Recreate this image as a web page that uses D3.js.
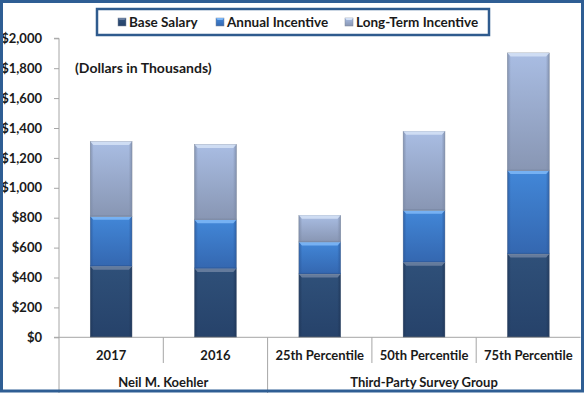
<!DOCTYPE html>
<html>
<head>
<meta charset="utf-8">
<script src="https://cdn.jsdelivr.net/npm/d3@7"></script>
<style>
  body { margin: 0; background: #fff; }
  svg { display: block; font-family: "Liberation Sans Narrow", "Lato", sans-serif; font-weight: bold; }
</style>
</head>
<body>
<svg width="585" height="393"></svg>
<script>
// values in $ thousands
var categories = ["2017", "2016", "25th Percentile", "50th Percentile", "75th Percentile"];
var groups = [
  {name: "Neil M. Koehler", from: 0, to: 1},
  {name: "Third-Party Survey Group", from: 2, to: 4}
];
var seriesNames = ["Base Salary", "Annual Incentive", "Long-Term Incentive"];
var baseSalary = [475, 460, 424, 502, 558];
var annualIncentive = [334, 327, 214, 348, 557];
var longTermIncentive = [500, 502, 178, 528, 787];
var yTicks = [0, 200, 400, 600, 800, 1000, 1200, 1400, 1600, 1800, 2000];

var colors = {
  "Base Salary":        {top: "#2f5079", bottom: "#26426a", edge: "#1f3658", hi: "#6a7fa0"},
  "Annual Incentive":   {top: "#4287d8", bottom: "#3467b0", edge: "#2c5a9c", hi: "#7cb6f6"},
  "Long-Term Incentive":{top: "#a9bde3", bottom: "#8896b3", edge: "#7c8aa6", hi: "#d3e0f5"}
};

var svg = d3.select("svg"),
    W = 585, H = 393,
    x0 = 59, x1 = 580.5,
    yZero = 337.3, yTop = 38.3;

var data = categories.map(function(c, i) {
  return {cat: c, "Base Salary": baseSalary[i], "Annual Incentive": annualIncentive[i], "Long-Term Incentive": longTermIncentive[i]};
});

var x = d3.scaleBand().domain(categories).range([x0, x1]).paddingInner(0.6).paddingOuter(0.3);
var step = (x1 - x0) / categories.length;
var y = d3.scaleLinear().domain([0, 2000]).range([yZero, yTop]);

svg.append("rect").attr("width", W).attr("height", H).attr("fill", "#fff");

var defs = svg.append("defs");
seriesNames.forEach(function(s, i) {
  var g = defs.append("linearGradient").attr("id", "g" + i)
      .attr("x1", 0).attr("y1", 0).attr("x2", 0).attr("y2", 1);
  g.append("stop").attr("offset", "0%").attr("stop-color", colors[s].top);
  g.append("stop").attr("offset", "100%").attr("stop-color", colors[s].bottom);
  var e = defs.append("linearGradient").attr("id", "e" + i)
      .attr("x1", 0).attr("y1", 0).attr("x2", 1).attr("y2", 0);
  e.append("stop").attr("offset", "0%").attr("stop-color", colors[s].edge).attr("stop-opacity", 0.8);
  e.append("stop").attr("offset", "8%").attr("stop-color", colors[s].edge).attr("stop-opacity", 0);
  e.append("stop").attr("offset", "92%").attr("stop-color", colors[s].edge).attr("stop-opacity", 0);
  e.append("stop").attr("offset", "100%").attr("stop-color", colors[s].edge).attr("stop-opacity", 0.8);
});

// stacked bars
var stack = d3.stack().keys(seriesNames)(data);

var layer = svg.append("g").selectAll("g")
  .data(stack)
  .enter().append("g");

layer.each(function(s, i) {
  var g = d3.select(this);
  var seg = g.selectAll("g").data(s).enter().append("g");
  seg.append("rect")
      .attr("x", function(d) { return x(d.data.cat); })
      .attr("y", function(d) { return y(d[1]); })
      .attr("width", x.bandwidth())
      .attr("height", function(d) { return y(d[0]) - y(d[1]); })
      .attr("fill", "url(#g" + i + ")")
      .attr("stroke", "#8d96a3")
      .attr("stroke-width", 0.6);
  seg.append("rect")
      .attr("x", function(d) { return x(d.data.cat); })
      .attr("y", function(d) { return y(d[1]); })
      .attr("width", x.bandwidth())
      .attr("height", function(d) { return y(d[0]) - y(d[1]); })
      .attr("fill", "url(#e" + i + ")");
  // bevel highlight along the top
  seg.append("path")
      .attr("d", function(d) {
        var l = x(d.data.cat), r = l + x.bandwidth(), t = y(d[1]);
        return "M" + l + "," + t + "L" + r + "," + t + "L" + (r - 3) + "," + (t + 3.5) + "L" + (l + 3) + "," + (t + 3.5) + "Z";
      })
      .attr("fill", colors[seriesNames[i]].hi)
      .attr("opacity", 0.9);
  seg.append("line")
      .attr("x1", function(d) { return x(d.data.cat); })
      .attr("x2", function(d) { return x(d.data.cat) + x.bandwidth(); })
      .attr("y1", function(d) { return y(d[0]) - 0.5; })
      .attr("y2", function(d) { return y(d[0]) - 0.5; })
      .attr("stroke", colors[seriesNames[i]].edge)
      .attr("stroke-width", 1);
});

// y axis
var yAxis = d3.axisLeft(y).tickValues(yTicks).tickSize(5).tickPadding(12)
    .tickFormat(function(d) { return "$" + d3.format(",")(d); });
var yg = svg.append("g").attr("transform", "translate(" + x0 + ",0)").call(yAxis);
yg.select(".domain").attr("stroke", "#a6a6a6").attr("d", "M-5," + yTop + "H0V" + yZero);
yg.selectAll(".tick line").attr("stroke", "#a6a6a6");
yg.selectAll(".tick text").attr("fill", "#1a1a1a").attr("font-size", 13)
    .attr("font-family", "'Liberation Sans Narrow', Lato, sans-serif").attr("font-weight", "bold");

// category axis (two levels)
var axisColor = "#a6a6a6";
svg.append("line").attr("x1", x0 - 5).attr("x2", x1).attr("y1", yZero).attr("y2", yZero)
    .attr("stroke", axisColor);
svg.append("line").attr("x1", x0).attr("x2", x0).attr("y1", yZero).attr("y2", H)
    .attr("stroke", axisColor);

var boundaries = d3.range(1, categories.length);
svg.append("g").selectAll("line")
  .data(boundaries)
  .enter().append("line")
    .attr("x1", function(i) { return x0 + i * step; })
    .attr("x2", function(i) { return x0 + i * step; })
    .attr("y1", yZero)
    .attr("y2", function(i) { return groups.some(function(g) { return g.from === i; }) ? H : 363; })
    .attr("stroke", axisColor);

svg.append("g").selectAll("text")
  .data(categories)
  .enter().append("text")
    .attr("x", function(d) { return x(d) + x.bandwidth() / 2; })
    .attr("y", 360)
    .attr("text-anchor", "middle")
    .attr("font-size", 13)
    .attr("fill", "#1a1a1a")
    .text(function(d) { return d; });

svg.append("g").selectAll("text")
  .data(groups)
  .enter().append("text")
    .attr("x", function(g) { return x0 + (g.from + g.to + 1) / 2 * step; })
    .attr("y", 387)
    .attr("text-anchor", "middle")
    .attr("font-size", 13)
    .attr("fill", "#1a1a1a")
    .text(function(g) { return g.name; });

// note
svg.append("text").attr("x", 75).attr("y", 73)
    .attr("font-size", 14).attr("fill", "#1a1a1a")
    .text("(Dollars in Thousands)");

// legend
var legend = svg.append("g");
legend.append("rect").attr("x", 97).attr("y", 9).attr("width", 392).attr("height", 26)
    .attr("fill", "#fff").attr("stroke", "#2f5b8e").attr("stroke-width", 2.5);
var legendX = [118, 216, 345];
var item = legend.selectAll("g.item")
  .data(seriesNames)
  .enter().append("g")
    .attr("class", "item")
    .attr("transform", function(d, i) { return "translate(" + legendX[i] + ",18)"; });
item.append("rect").attr("width", 8).attr("height", 8)
    .attr("fill", function(d, i) { return "url(#g" + i + ")"; })
    .attr("stroke", "#7d8799").attr("stroke-width", 0.5);
item.append("path").attr("d", "M0,0H8L6.5,2H1.5Z")
    .attr("fill", function(d) { return colors[d].hi; });
item.append("text").attr("x", 11).attr("y", 8.5)
    .attr("font-size", 13.5).attr("fill", "#1a1a1a")
    .text(function(d) { return d; });

// outer frame
svg.append("rect").attr("x", 1.5).attr("y", 1.5).attr("width", W - 4).attr("height", H - 3.5)
    .attr("fill", "none").attr("stroke", "#2f5e94").attr("stroke-width", 3);
</script>
</body>
</html>
